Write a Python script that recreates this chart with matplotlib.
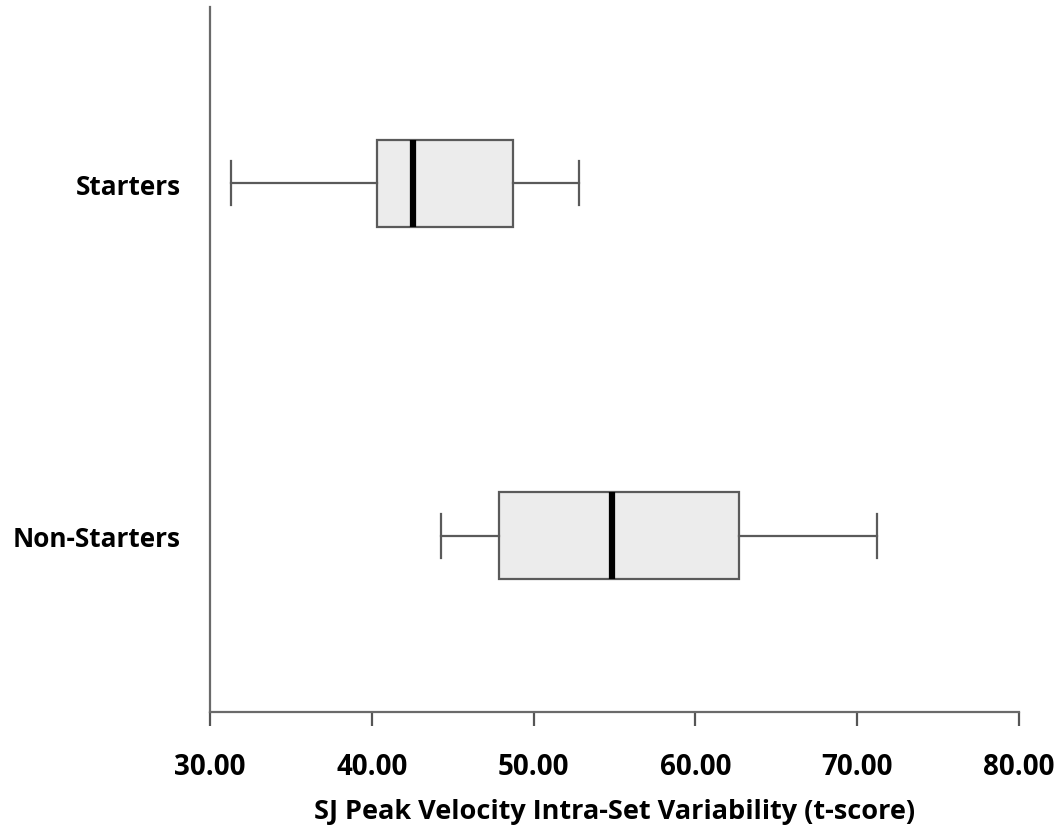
import matplotlib.pyplot as plt

# ---------- data ----------
groups = ["Starters", "Non-Starters"]
whisker_low = [31.27, 44.26]
q1 = [40.30, 47.86]
median = [42.52, 54.85]
q3 = [48.75, 62.71]
whisker_high = [52.80, 71.25]
positions = [0.75, 0.25]
x_ticks = [30, 40, 50, 60, 70, 80]

FONT = "Open Sans"
EDGE = "#5a5a5a"

stats = [
    dict(label=g, whislo=lo, q1=a, med=m, q3=b, whishi=hi, fliers=[])
    for g, lo, a, m, b, hi in zip(groups, whisker_low, q1, median, q3, whisker_high)
]

fig = plt.figure(figsize=(10.59, 8.28), dpi=100)
ax = fig.add_axes([210 / 1059, 1 - 713 / 828, 809 / 1059, 705 / 828])

ax.bxp(
    stats, positions=positions, vert=False, widths=0.123, capwidths=0.0625,
    patch_artist=True, showfliers=False,
    boxprops=dict(facecolor="#ececec", edgecolor=EDGE, linewidth=1.6),
    whiskerprops=dict(color=EDGE, linewidth=1.6),
    capprops=dict(color=EDGE, linewidth=1.6),
    medianprops=dict(color="black", linewidth=4.5, solid_capstyle="butt"),
)

ax.set_xlim(30, 80)
ax.set_ylim(0, 1)
ax.set_xticks(x_ticks)
ax.set_xticklabels([f"{v:.2f}" for v in x_ticks])
ax.set_yticks(positions)
ax.set_yticklabels(groups)

for side in ["top", "right"]:
    ax.spines[side].set_visible(False)
for side in ["left", "bottom"]:
    ax.spines[side].set_color("#6a6a6a")
    ax.spines[side].set_linewidth(1.6)

ax.tick_params(axis="x", direction="out", length=10, width=1.6, color="#555555", pad=19)
ax.tick_params(axis="y", length=0, pad=21)
for lbl in ax.get_xticklabels():
    lbl.set_fontfamily(FONT)
    lbl.set_fontweight("bold")
    lbl.set_fontsize(20)
for lbl in ax.get_yticklabels():
    lbl.set_fontfamily(FONT)
    lbl.set_fontweight("bold")
    lbl.set_fontsize(18.8)

ax.set_xlabel("SJ Peak Velocity Intra-Set Variability (t-score)",
              fontfamily=FONT, fontweight="bold", fontsize=19.5, labelpad=12)

fig.savefig("out.png", dpi=100)
